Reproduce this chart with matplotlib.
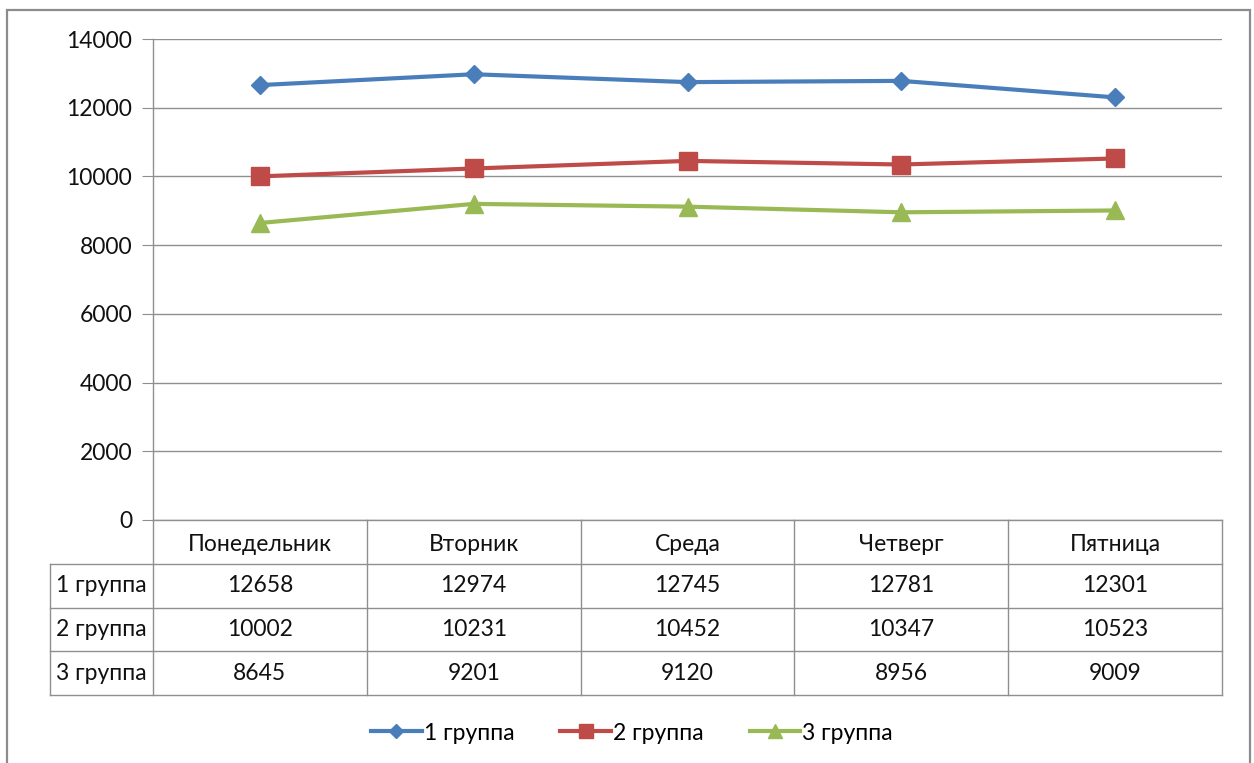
import matplotlib.pyplot as plt
from matplotlib.patches import Rectangle

# data
days = ["Понедельник", "Вторник", "Среда", "Четверг", "Пятница"]
group_names = ["1 группа", "2 группа", "3 группа"]
group1 = [12658, 12974, 12745, 12781, 12301]
group2 = [10002, 10231, 10452, 10347, 10523]
group3 = [8645, 9201, 9120, 8956, 9009]

plt.rcParams["font.family"] = ["Lato", "DejaVu Sans"]

W, H = 1254, 763
fig = plt.figure(figsize=(W / 100, H / 100), dpi=100)


def box(x0, y0, x1, y1):
    # pixel box (top-left origin) -> figure fraction rect
    return [x0 / W, 1 - y1 / H, (x1 - x0) / W, (y1 - y0) / H]


# outer chart border
fig.patches.append(Rectangle((7 / W, -0.01), (1250 - 7) / W, 1 - 10 / H + 0.01,
                             transform=fig.transFigure, fill=False,
                             edgecolor="#8c8c8c", linewidth=1.6))

grid_c = "#8f8f8f"
txt_c = "#111111"
fs = 16.5
ax = fig.add_axes(box(153, 39, 1222, 520))
x = range(len(days))
series = [(group1, "#4a7ebb", "D", 9.5),
          (group2, "#be4b48", "s", 12.5),
          (group3, "#98b954", "^", 13)]
for vals, name, (_, c, m, ms) in zip([group1, group2, group3], group_names, series):
    ax.plot(x, vals, color=c, lw=3, marker=m, markersize=ms,
            markeredgecolor=c, label=name)

ax.set_xlim(-0.5, len(days) - 0.5)
ax.set_ylim(0, 14000)
ax.set_yticks(range(0, 14001, 2000))
ax.set_xticks([])
ax.grid(axis="y", color=grid_c, lw=1)
ax.set_axisbelow(True)
for s in ["top", "right"]:
    ax.spines[s].set_visible(False)
for s in ["left", "bottom"]:
    ax.spines[s].set_color(grid_c)
    ax.spines[s].set_linewidth(1)
ax.tick_params(axis="y", length=8, color=grid_c, labelsize=fs, pad=7,
               labelcolor=txt_c)

# data table under the axis
col_w = 1069 / len(days)
lab_w = (153 - 50) / col_w
tax = fig.add_axes(box(50, 520, 1222, 695))
tax.set_xlim(-0.5 - lab_w, len(days) - 0.5)
tax.set_ylim(len(group_names) + 1, 0)
tax.axis("off")
nrow = len(group_names) + 1
lkw = dict(color=grid_c, lw=1, clip_on=False)
for k in range(len(days) + 1):
    tax.plot([k - 0.5, k - 0.5], [0, nrow], **lkw)
tax.plot([-0.5 - lab_w] * 2, [1, nrow], **lkw)
for r in range(1, nrow + 1):
    tax.plot([-0.5 - lab_w, len(days) - 0.5], [r, r], **lkw)

tkw = dict(ha="center", va="center", fontsize=fs, color=txt_c)
for i, d in enumerate(days):
    tax.text(i, 0.55, d, **tkw)
for r, (name, vals) in enumerate(zip(group_names, [group1, group2, group3])):
    tax.text(-0.5 - lab_w / 2, r + 1.5, name, **tkw)
    for i, v in enumerate(vals):
        tax.text(i, r + 1.5, str(v), **tkw)

fig.legend(*ax.get_legend_handles_labels(), loc="center",
           bbox_to_anchor=(632 / W, 1 - 733 / H), ncol=3, frameon=False,
           fontsize=fs, handlelength=2.2, handletextpad=0.1, columnspacing=2.0,
           markerscale=0.75)

fig.savefig("out.png", dpi=100)
